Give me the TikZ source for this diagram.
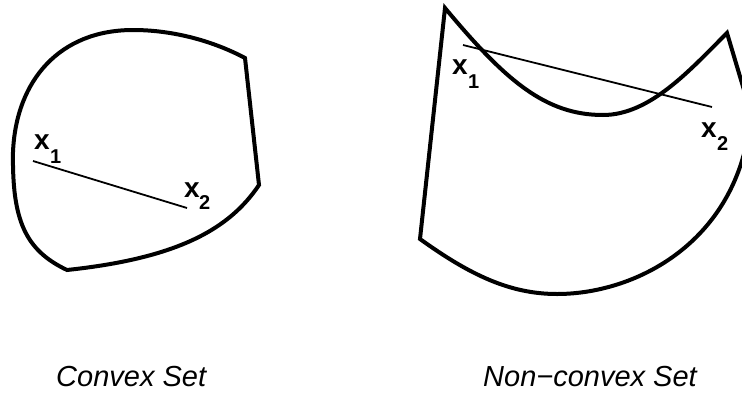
\documentclass[tikz,border=0pt]{standalone}
\usepackage{fontspec}
\setmainfont{Liberation Sans}
\begin{document}
\begin{tikzpicture}[x=1pt,y=-1pt,
  setline/.style={line width=4pt, line join=miter},
  chord/.style={line width=1.8pt},
  xlab/.style={anchor=base west, inner sep=0pt, font=\fontsize{28}{28}\selectfont\bfseries},
  sublab/.style={anchor=base west, inner sep=0pt, font=\fontsize{20}{20}\selectfont\bfseries},
  caption/.style={anchor=base west, inner sep=0pt, font=\fontsize{29}{29}\selectfont\itshape}]
\useasboundingbox (0,0) rectangle (742,394);
\begin{scope}
\clip (0,0) rectangle (742,394);
% convex set
\draw[setline] (13,152) .. controls (16,80) and (60,30) .. (133,30)
  .. controls (175,30) and (215,42) .. (245,58)
  -- (259,185)
  .. controls (230,228) and (180,258) .. (67,270)
  .. controls (25,250) and (12,220) .. cycle;
% non-convex set
\draw[setline] (445,8) .. controls (505,80) and (545,115) .. (603,115)
  .. controls (650,115) and (690,70) .. (727,33)
  -- (744,90) .. controls (750,115) and (750,130) .. (745,150)
  .. controls (720,250) and (630,294) .. (557,294)
  .. controls (510,294) and (470,275) .. (420,239)
  -- cycle;
\end{scope}
% chords
\coordinate (a1) at (33,161);
\coordinate (a2) at (187,208);
\draw[chord] (a1) -- (a2);
\coordinate (b1) at (463,45);
\coordinate (b2) at (712,107);
\draw[chord] (b1) -- (b2);
% labels
\node[xlab] (cx1) at (34,149) {x};
\node[sublab] (cs1) at (50,163) {1};
\node[xlab] (cx2) at (184,197) {x};
\node[sublab] (cs2) at (199,209) {2};
\node[xlab] (nx1) at (452,74) {x};
\node[sublab] (ns1) at (468,88) {1};
\node[xlab] (nx2) at (701,137) {x};
\node[sublab] (ns2) at (717,150) {2};
\node[caption] (cc) at (56,386) {Convex Set};
\node[caption] (nc) at (483,386) {Non−convex Set};
\end{tikzpicture}
\end{document}
